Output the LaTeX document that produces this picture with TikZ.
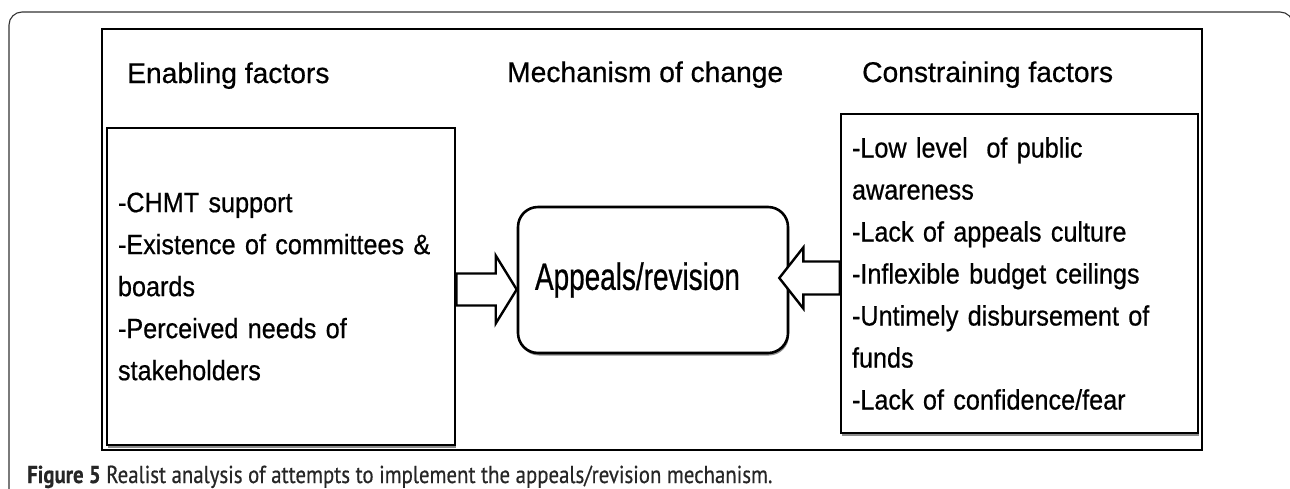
\documentclass[tikz,border=0pt]{standalone}
\usepackage{fontspec}
\setmainfont{Liberation Sans}
\newfontfamily\headfont[FakeStretch=0.99,FakeBold=0.6]{Liberation Sans}
\newfontfamily\bodyfont[FakeStretch=0.90,FakeBold=0.6]{Liberation Sans}
\newfontfamily\mechfont[FakeStretch=0.735,FakeBold=0.6]{Liberation Sans}
\newfontfamily\capfont[FakeStretch=0.85,FakeBold=0.5]{PT Sans}
\usetikzlibrary{calc,shadows}

\tikzset{
  heading/.style={anchor=base west, inner sep=0pt, font=\headfont\fontsize{28.5}{34}\selectfont},
  factorbox/.style={draw, line width=2.6pt, fill=white, align=left, inner xsep=11pt,
    font=\bodyfont\fontsize{28}{42}\selectfont,
    general shadow={shadow xshift=1pt, shadow yshift=-2.5pt, fill=black!45}},
  mechbox/.style={draw, line width=2.6pt, fill=white, rounded corners=20pt, align=left,
    inner xsep=17pt, font=\mechfont\fontsize{38}{44}\selectfont,
    general shadow={shadow xshift=1pt, shadow yshift=-2.5pt, fill=black!45}},
  fatarrow/.style={draw, line width=2.4pt, fill=white, line join=miter},
}

\begin{document}
\begin{tikzpicture}[x=1pt,y=-1pt]
  \useasboundingbox (0,0) rectangle (1290,488);
  \clip (0,0) rectangle (1290,488);

  % outer rounded figure frame
  \draw[line width=1.1pt, black!80, rounded corners=13pt]
    (9,520) -- (9,12) -- (1293,12) -- (1293,520);

  % inner panel
  \node[draw, line width=2.4pt, minimum width=1100pt, minimum height=421pt, inner sep=0pt]
    (panel) at (652,239.5) {};

  % column headings
  \node[heading] (hEn) at (127,83) {Enabling factors};
  \node[heading] (hMe) at (507,82) {Mechanism of change};
  \node[heading] (hCo) at (862,82) {Constraining factors};

  % factor boxes
  \node[factorbox, text width=326pt, minimum height=317pt] (L) at (281,286.5)
    {-CHMT support\\
     -Existence of committees \&\\
     boards\\
     -Perceived needs of\\
     stakeholders};
  \node[factorbox, text width=335pt, minimum height=319pt] (R) at (1019.5,273.5)
    {-Low level\ \ of public\\
     awareness\\
     -Lack of appeals culture\\
     -Inflexible budget ceilings\\
     -Untimely disbursement of\\
     funds\\
     -Lack of confidence/fear};

  % mechanism box
  \node[mechbox, text width=236pt, minimum height=146pt] (C) at (653,280) {Appeals/revision};

  % block arrows into the mechanism
  \draw[fatarrow] let \p1=(L.east), \p2=(C.west) in
    (\x1,\y1-3+16) -- (\x2-21,\y1-3+16) -- (\x2-21,\y1-3+34) -- (\x2,\y1-3)
    -- (\x2-21,\y1-3-34) -- (\x2-21,\y1-3-16) -- (\x1,\y1-3-16) -- cycle;
  \draw[fatarrow] let \p1=(R.west), \p2=(C.east) in
    (\x1,\y2+2+16.5) -- (\x2+14,\y2+2+16.5) -- (\x2+14,\y2+2+30.5) -- (\x2-10,\y2+2)
    -- (\x2+14,\y2+2-30.5) -- (\x2+14,\y2+2-16.5) -- (\x1,\y2+2-16.5) -- cycle;

  % caption
  \node[anchor=base west, inner sep=0pt, text=black!85, font=\capfont\fontsize{24.5}{28}\selectfont]
    (cap) at (27,483) {\textbf{Figure 5} Realist analysis of attempts to implement the appeals/revision mechanism.};
\end{tikzpicture}
\end{document}
